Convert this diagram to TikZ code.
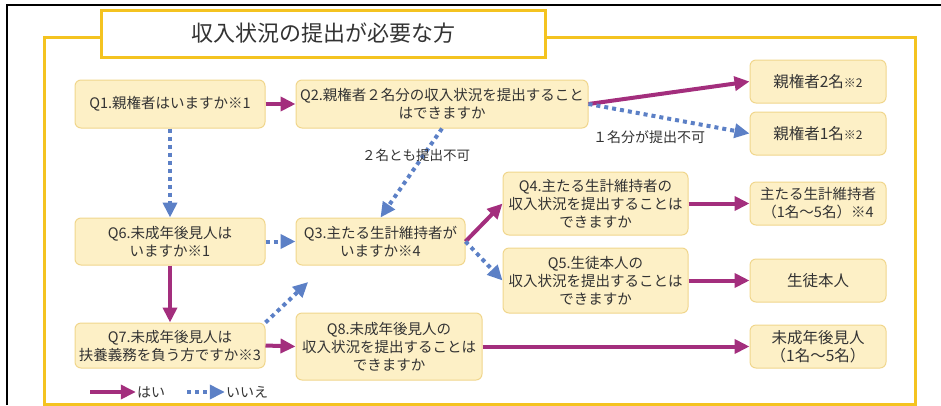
\documentclass[tikz,border=0pt]{standalone}
\usepackage{fontspec}
\setmainfont{Noto Sans CJK JP}
\usepackage{xcolor}
\usetikzlibrary{arrows.meta}

\definecolor{frameyellow}{RGB}{244,195,32}
\definecolor{boxfill}{RGB}{253,240,198}
\definecolor{boxline}{RGB}{240,214,140}
\definecolor{yespurple}{RGB}{163,46,125}
\definecolor{noblue}{RGB}{92,128,198}
\definecolor{textgray}{RGB}{51,51,51}

\begin{document}
\begin{tikzpicture}[
        x=1pt, y=-1pt,
        every node/.style={text=textgray, font=\fontsize{14.5}{18}\selectfont},
        qbox/.style={draw=boxline, fill=boxfill, rounded corners=6pt, line width=1pt, align=center, inner sep=2pt},
        ansbox/.style={qbox, minimum width=136pt, minimum height=43pt, font=\fontsize{15.5}{18.5}\selectfont},
        yesline/.style={draw=yespurple, line width=4pt, -{Triangle[length=15pt,width=14pt]}},
        noline/.style={draw=noblue, line width=4pt, dash pattern=on 4pt off 4pt, -{Triangle[length=15pt,width=14pt]}}
    ]
    \useasboundingbox (0,0) rectangle (941,405);
    
    % Screen edge and yellow frame
    \draw[line width=2pt] (7,405) -- (7,5) -- (941,5);
    \draw[frameyellow, line width=3pt] (44,37) rectangle (915,404);
    \node[draw=frameyellow, fill=white, line width=3pt, minimum width=444pt, minimum height=47pt,
          font=\fontsize{22}{26}\selectfont] (title) at (323,33.5) {収入状況の提出が必要な方};
    
    % Questions
    \node[qbox, minimum width=190pt, minimum height=48pt] (Q1) at (170,104) {Q1.親権者はいますか※1};
    \node[qbox, minimum width=292pt, minimum height=48pt] (Q2) at (442,104) {Q2.親権者２名分の収入状況を提出すること\\はできますか};
    \node[qbox, minimum width=169pt, minimum height=47pt] (Q3) at (380.5,241.5) {Q3.主たる生計維持者が\\いますか※4};
    \node[qbox, minimum width=185pt, minimum height=63pt] (Q4) at (595.5,203.5) {Q4.主たる生計維持者の\\収入状況を提出することは\\できますか};
    \node[qbox, minimum width=185pt, minimum height=65pt] (Q5) at (595.5,280.5) {Q5.生徒本人の\\収入状況を提出することは\\できますか};
    \node[qbox, minimum width=190pt, minimum height=47pt] (Q6) at (170,241.5) {Q6.未成年後見人は\\いますか※1};
    \node[qbox, minimum width=190pt, minimum height=45pt] (Q7) at (170,345.5) {Q7.未成年後見人は\\扶養義務を負う方ですか※3};
    \node[qbox, minimum width=186pt, minimum height=67pt] (Q8) at (389,346.5) {Q8.未成年後見人の\\収入状況を提出することは\\できますか};
    
    % Answers
    \node[ansbox] (two) at (818,81.5) {親権者2名{\fontsize{12}{14}\selectfont ※2}};
    \node[ansbox] (one) at (818,133.5) {親権者1名{\fontsize{12}{14}\selectfont ※2}};
    \node[ansbox, font=\fontsize{14.5}{18}\selectfont] (main) at (818,203.5) {主たる生計維持者\\（1名～5名）※4};
    \node[ansbox] (pupil) at (818,280.5) {生徒本人};
    \node[ansbox] (guard) at (818,346.5) {未成年後見人\\（1名～5名）};
    
    % Arrows for yes
    \draw[yesline] (Q1.east) -- (Q2.west);
    \draw[yesline] (Q2.east) -- (two.west);
    \draw[yesline] (Q6.south) -- (Q7.north);
    \draw[yesline] (Q7.east) -- (Q8.west);
    \draw[yesline] (Q3.east) -- (Q4.west);
    \draw[yesline] (Q4.east) -- (main.west);
    \draw[yesline] (Q5.east) -- (pupil.west);
    \draw[yesline] (Q8.east) -- (guard.west);
    
    % Arrows for no
    \draw[noline] (Q1.south) -- (Q6.north);
    \draw[noline] (Q2.east) -- (one.west);
    \draw[noline] (Q2.south) -- (Q3.north);
    \draw[noline] (Q6.east) -- (Q3.west);
    \draw[noline, shorten >=24pt] (Q7.north east) -- ([xshift=-55pt]Q3.south);
    \draw[noline] (Q3.east) -- (Q5.west);
    
    % Arrow labels
    \node[font=\fontsize{14}{16}\selectfont] (onelabel) at (649,137) {１名分が提出不可};
    \node[font=\fontsize{13.5}{16}\selectfont] (twolabel) at (416,155) {２名とも提出不可};
    
    % Legend
    \coordinate (yesstart) at (90,392);
    \coordinate (nostart) at (187,392);
    \node[font=\fontsize{14}{16}\selectfont, inner sep=1pt] (yeslabel) at (151,392) {はい};
    \node[font=\fontsize{14}{16}\selectfont, inner sep=1pt] (nolabel) at (247,392) {いいえ};
    \draw[yesline, line width=3.5pt] (yesstart) -- (yeslabel.west);
    \draw[noline, line width=3.5pt] (nostart) -- (nolabel.west);
    
\end{tikzpicture}
\end{document}
